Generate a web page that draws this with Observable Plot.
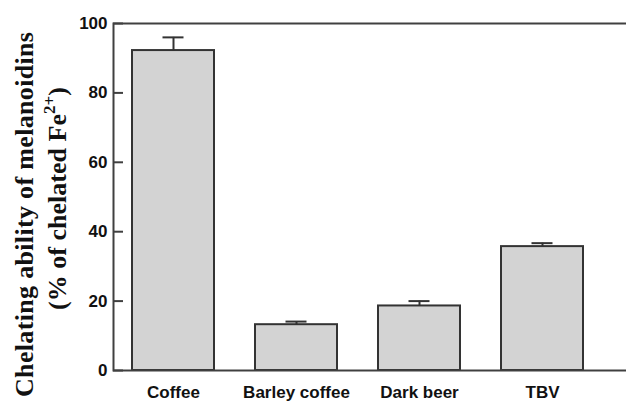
<!DOCTYPE html>
<html>
<head>
<meta charset="utf-8">
<script src="https://cdn.jsdelivr.net/npm/d3@7"></script>
<script src="https://cdn.jsdelivr.net/npm/@observablehq/plot@0.6"></script>
<style>
  html, body { margin: 0; padding: 0; background: #fff; overflow: hidden; }
</style>
</head>
<body>
<div id="chart"></div>
<script>
const categories = ["Coffee", "Barley coffee", "Dark beer", "TBV"];
const values = [92.2, 13.2, 18.6, 35.7];
const errors = [3.8, 0.9, 1.4, 1.0];
const yTicks = [0, 20, 40, 60, 80, 100];
const yLabelLine1 = "Chelating ability of melanoidins";
const yLabelLine2a = "(% of chelated Fe";
const yLabelSup = "2+";
const yLabelLine2b = ")";

const data = categories.map((c, i) => ({cat: c, v: values[i], e: errors[i]}));
const ink = "#333";
const axisInk = "#404040";
const sans = "Liberation Sans, Arial, sans-serif";
const W = 626, ML = 113, MR = -4;

const chart = Plot.plot({
  width: W,
  height: 401,
  marginLeft: ML,
  marginRight: MR,
  marginTop: 23,
  marginBottom: 31,
  style: {background: "#fff", overflow: "hidden"},
  x: {domain: categories, range: [113, 602], paddingInner: 0.335, paddingOuter: 0.15, label: null},
  y: {domain: [0, 100], label: null},
  marks: [
    Plot.barY(data, {x: "cat", y: "v", fill: "#d3d3d3", stroke: ink, strokeWidth: 2}),
    Plot.ruleX(data, {x: "cat", y1: "v", y2: d => d.v + d.e, stroke: ink, strokeWidth: 2}),
    Plot.tickY(data, {x: "cat", y: d => d.v + d.e, stroke: ink, strokeWidth: 2, insetLeft: 30.5, insetRight: 30.5}),
    // left, top and bottom lines (right side falls outside the picture)
    Plot.frame({stroke: axisInk, strokeWidth: 2}),
    // inward ticks (10px long, inside the frame)
    Plot.tickY(yTicks, {y: d => d, insetRight: W - ML - MR - 10, stroke: axisInk, strokeWidth: 2}),
    Plot.axisY({ticks: yTicks, tickSize: 0, tickPadding: 6,
      fontSize: 17, fontWeight: "bold", fontFamily: sans, fill: "#111", label: null}),
    Plot.axisX({tickSize: 0, tickPadding: 15, fontSize: 17, fontWeight: "bold",
      fontFamily: sans, fill: "#111", label: null})
  ]
});

const svg = d3.select(chart);
const serif = "Liberation Serif, 'Times New Roman', serif";
svg.append("text")
  .attr("transform", "translate(33,214.5) rotate(-90)")
  .attr("text-anchor", "middle")
  .attr("font-family", serif)
  .attr("font-weight", "bold")
  .attr("font-size", 26)
  .attr("fill", "#111")
  .attr("textLength", 365)
  .attr("lengthAdjust", "spacing")
  .text(yLabelLine1);

const t2 = svg.append("text")
  .attr("transform", "translate(66,198.5) rotate(-90)")
  .attr("text-anchor", "middle")
  .attr("font-family", serif)
  .attr("font-weight", "bold")
  .attr("font-size", 26)
  .attr("fill", "#111")
  .attr("textLength", 223)
  .attr("lengthAdjust", "spacing");
t2.append("tspan").text(yLabelLine2a);
t2.append("tspan").attr("font-size", 17).attr("dy", -11).text(yLabelSup);
t2.append("tspan").attr("dy", 11).text(yLabelLine2b);

document.getElementById("chart").appendChild(chart);
</script>
</body>
</html>
